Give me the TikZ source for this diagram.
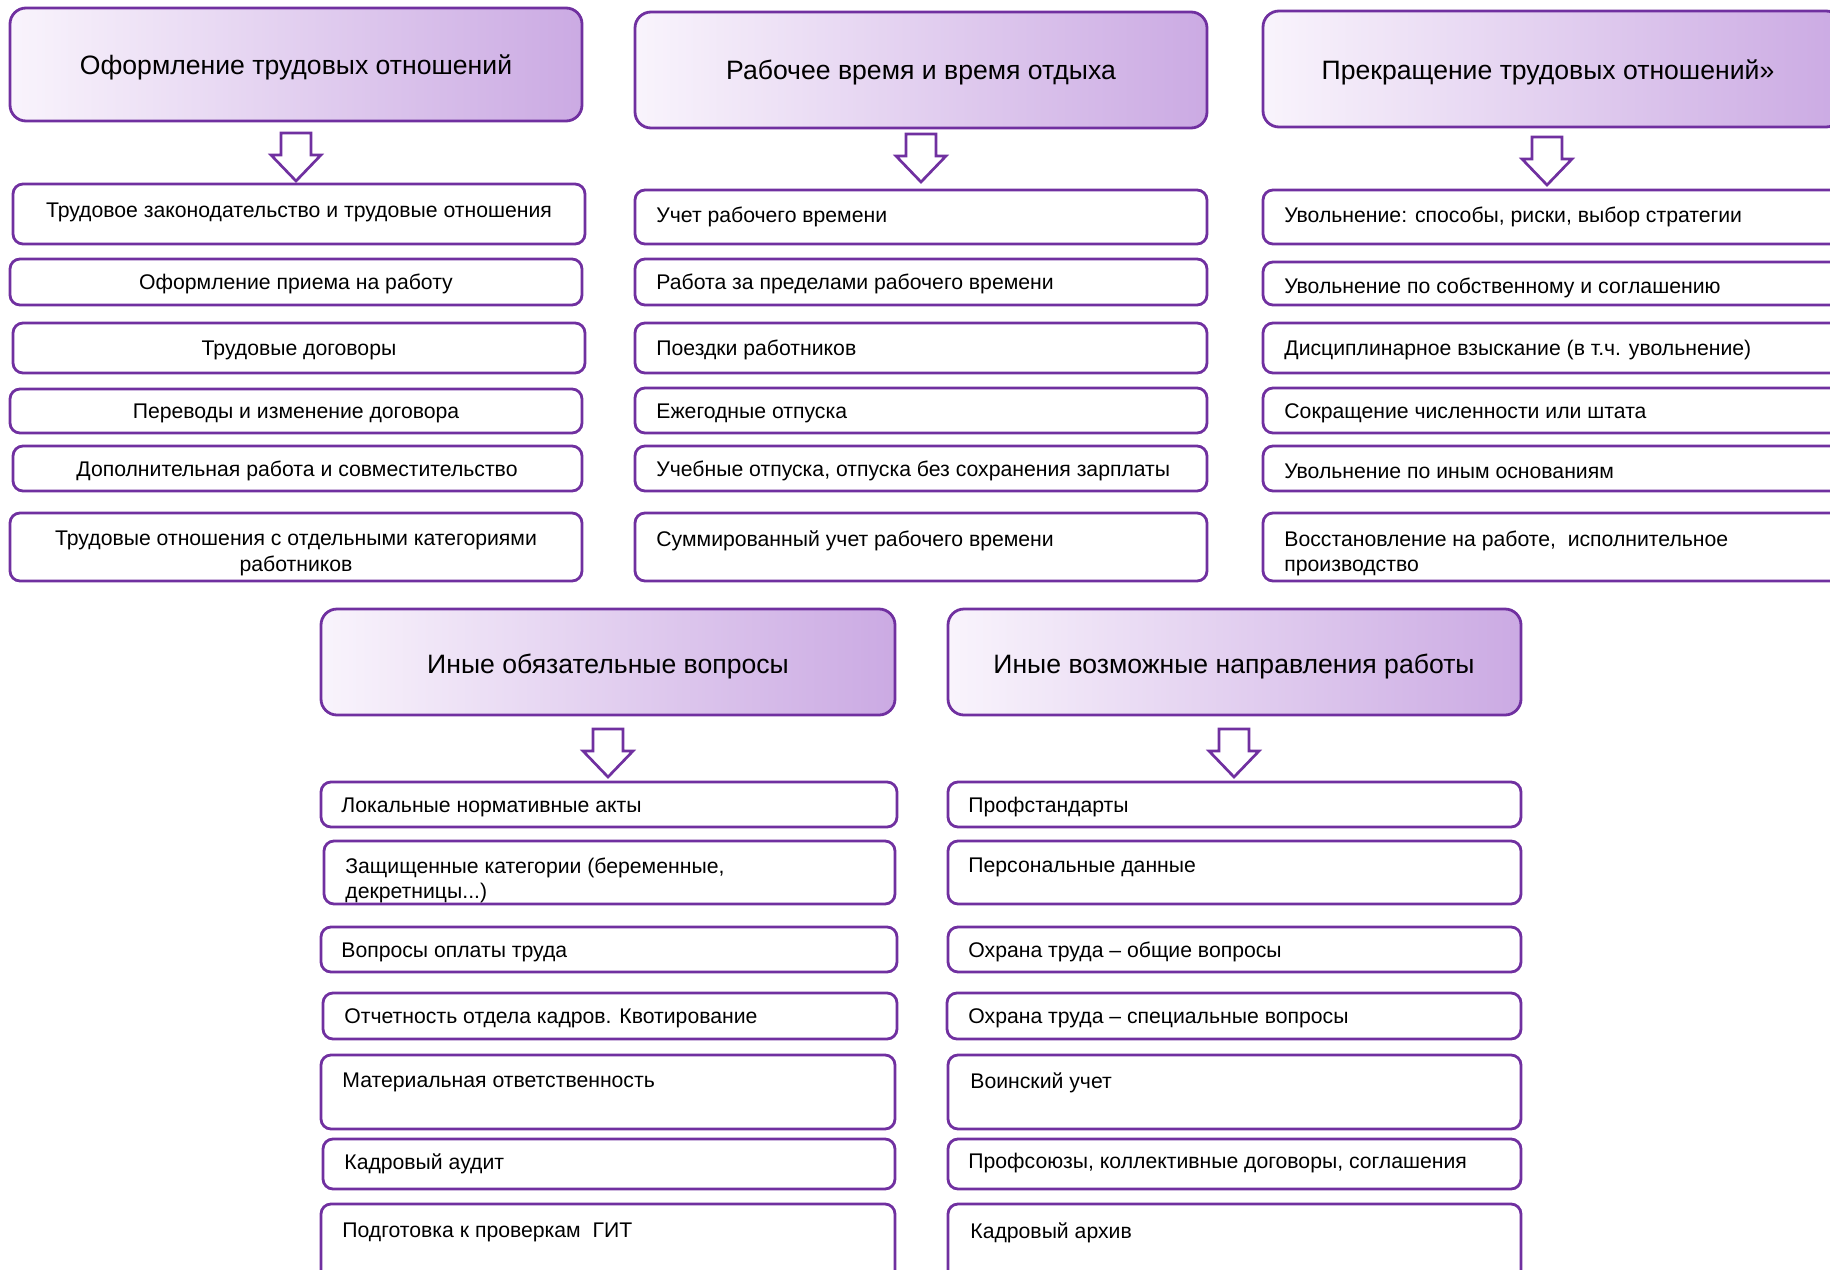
\documentclass[tikz,border=0pt]{standalone}
\usepackage{fontspec}
\setmainfont{Liberation Sans}
\usetikzlibrary{calc}
\definecolor{pborder}{HTML}{7030A0}
\definecolor{gleft}{HTML}{F9F4FC}
\definecolor{gright}{HTML}{CBAAE3}
\tikzset{
 hdr/.style={draw=pborder, line width=1.4pt, rounded corners=8pt, left color=gleft, right color=gright, inner sep=0pt},
 ib/.style={draw=pborder, line width=1.4pt, rounded corners=5pt, fill=white, inner sep=0pt},
 ht/.style={font=\fontsize{13.3}{16}\selectfont, inner sep=0pt, yshift=-1.2pt},
 it/.style={font=\fontsize{10.6}{12.8}\selectfont, inner sep=0pt, align=left, yshift=-1.2pt},
 itc/.style={font=\fontsize{10.6}{12.8}\selectfont, inner sep=0pt, align=center, yshift=-1.2pt},
 barrow/.style={draw=pborder, line width=1.35pt, fill=white, line join=miter},
}
\newcommand\bx[5]{\pgfmathsetmacro\bw{(#4-#2)/2}\pgfmathsetmacro\bh{(#5-#3)/2}%
 \node[ib, minimum width=\bw pt, minimum height=\bh pt] (#1) at ({(#2+#4)/2},{(#3+#5)/2}) {};}
\newcommand\hx[5]{\pgfmathsetmacro\bw{(#4-#2)/2}\pgfmathsetmacro\bh{(#5-#3)/2}%
 \node[hdr, minimum width=\bw pt, minimum height=\bh pt] (#1) at ({(#2+#4)/2},{(#3+#5)/2}) {};}
\newcommand\dnarrow[2]{% name, top coordinate
 \coordinate (#1) at #2;
 \draw[barrow] ($(#1)+(-15,0)$) -- ($(#1)+(15,0)$) -- ($(#1)+(15,22)$) -- ($(#1)+(25,22)$) -- ($(#1)+(0,48)$) -- ($(#1)+(-25,22)$) -- ($(#1)+(-15,22)$) -- cycle;}
\begin{document}
\begin{tikzpicture}[x=0.5pt,y=-0.5pt]
\useasboundingbox (0,0) rectangle (1830,1269);
% ---------- column 1
\hx{h1}{10}{8}{582}{121}
\node[ht] (h1t) at (296,65) {Оформление трудовых отношений};
\dnarrow{ar1}{(296,133)}
\bx{a1}{13}{184}{585}{244}
\node[itc] (a1t) at (299,210) {Трудовое законодательство и трудовые отношения};
\bx{a2}{10}{259}{582}{305}
\node[itc] (a2t) at (296,282) {Оформление приема на работу};
\bx{a3}{13}{323}{585}{373}
\node[itc] (a3t) at (299,348) {Трудовые договоры};
\bx{a4}{10}{389}{582}{433}
\node[itc] (a4t) at (296,411) {Переводы и изменение договора};
\bx{a5}{13}{446}{582}{491}
\node[itc] (a5t) at (297,469) {Дополнительная работа и совместительство};
\bx{a6}{10}{513}{582}{581}
\node[itc] (a6t) at (296,551) {Трудовые отношения с отдельными категориями\\работников};
% ---------- column 2
\hx{h2}{635}{12}{1207}{128}
\node[ht] (h2t) at (921,70) {Рабочее время и время отдыха};
\dnarrow{ar2}{(921,134)}
\bx{b1}{635}{190}{1207}{244}
\node[it, anchor=west] (b1t) at (656,215) {Учет рабочего времени};
\bx{b2}{635}{259}{1207}{305}
\node[it, anchor=west] (b2t) at (656,282) {Работа за пределами рабочего времени};
\bx{b3}{635}{323}{1207}{373}
\node[it, anchor=west] (b3t) at (656,348) {Поездки работников};
\bx{b4}{635}{388}{1207}{433}
\node[it, anchor=west] (b4t) at (656,411) {Ежегодные отпуска};
\bx{b5}{635}{446}{1207}{491}
\node[it, anchor=west] (b5t) at (656,469) {Учебные отпуска, отпуска без сохранения зарплаты};
\bx{b6}{635}{513}{1207}{581}
\node[it, anchor=west] (b6t) at (656,538) {Суммированный учет рабочего времени};
% ---------- column 3
\hx{h3}{1263}{11}{1842}{127}
\node[ht] (h3t) at (1548,70) {Прекращение трудовых отношений»};
\dnarrow{ar3}{(1547,137)}
\bx{c1}{1263}{190}{1842}{244}
\node[it, anchor=west] (c1t) at (1284,215) {Увольнение: способы, риски, выбор стратегии};
\bx{c2}{1263}{262}{1842}{305}
\node[it, anchor=west] (c2t) at (1284,286) {Увольнение по собственному и соглашению};
\bx{c3}{1263}{323}{1842}{373}
\node[it, anchor=west] (c3t) at (1284,348) {Дисциплинарное взыскание (в т.ч. увольнение)};
\bx{c4}{1263}{388}{1842}{433}
\node[it, anchor=west] (c4t) at (1284,411) {Сокращение численности или штата};
\bx{c5}{1263}{446}{1842}{491}
\node[it, anchor=west] (c5t) at (1284,469) {Увольнение по иным основаниям};
\bx{c6}{1263}{513}{1842}{581}
\node[it, anchor=west] (c6t) at (1284,551) {Восстановление на работе,\ \ исполнительное\\производство};
% ---------- bottom left
\hx{h4}{321}{609}{895}{715}
\node[ht] (h4t) at (608,664) {Иные обязательные вопросы};
\dnarrow{ar4}{(608,729)}
\bx{d1}{321}{782}{897}{827}
\node[it, anchor=west] (d1t) at (341,805) {Локальные нормативные акты};
\bx{d2}{324}{841}{895}{904}
\node[it, anchor=west] (d2t) at (345,878) {Защищенные категории (беременные,\\декретницы...)};
\bx{d3}{321}{927}{897}{972}
\node[it, anchor=west] (d3t) at (341,950) {Вопросы оплаты труда};
\bx{d4}{323}{993}{897}{1039}
\node[it, anchor=west] (d4t) at (344,1016) {Отчетность отдела кадров. Квотирование};
\bx{d5}{321}{1055}{895}{1129}
\node[it, anchor=west] (d5t) at (342,1080) {Материальная ответственность};
\bx{d6}{323}{1139}{895}{1189}
\node[it, anchor=west] (d6t) at (344,1161) {Кадровый аудит};
\bx{d7}{321}{1204}{895}{1295}
\node[it, anchor=west] (d7t) at (342,1230) {Подготовка к проверкам\ \ ГИТ};
% ---------- bottom right
\hx{h5}{948}{609}{1521}{715}
\node[ht] (h5t) at (1234,664) {Иные возможные направления работы};
\dnarrow{ar5}{(1234,729)}
\bx{e1}{948}{782}{1521}{827}
\node[it, anchor=west] (e1t) at (968,805) {Профстандарты};
\bx{e2}{948}{841}{1521}{904}
\node[it, anchor=west] (e2t) at (968,865) {Персональные данные};
\bx{e3}{948}{927}{1521}{972}
\node[it, anchor=west] (e3t) at (968,950) {Охрана труда – общие вопросы};
\bx{e4}{947}{993}{1521}{1039}
\node[it, anchor=west] (e4t) at (968,1016) {Охрана труда – специальные вопросы};
\bx{e5}{948}{1055}{1521}{1129}
\node[it, anchor=west] (e5t) at (970,1080) {Воинский учет};
\bx{e6}{948}{1139}{1521}{1189}
\node[it, anchor=west] (e6t) at (968,1161) {Профсоюзы, коллективные договоры, соглашения};
\bx{e7}{948}{1204}{1521}{1295}
\node[it, anchor=west] (e7t) at (970,1230) {Кадровый архив};
\end{tikzpicture}
\end{document}
